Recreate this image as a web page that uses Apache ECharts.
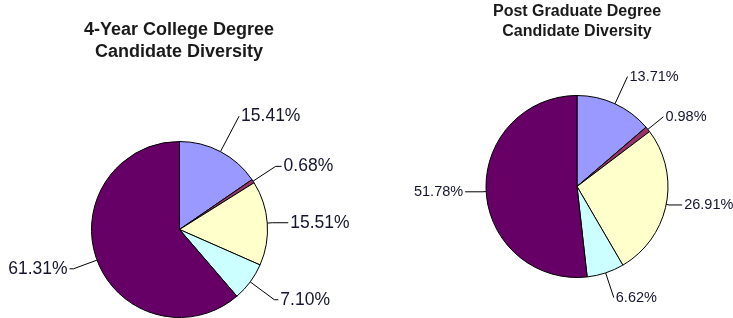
<!DOCTYPE html>
<html>
<head>
<meta charset="utf-8">
<script src="https://cdn.jsdelivr.net/npm/echarts@6/dist/echarts.min.js"></script>
<style>
html,body{margin:0;padding:0;background:#fff;}
#c{width:733px;height:318px;}
</style>
</head>
<body>
<div id="c"></div>
<script>
// ---- data ----
const categories = ['Group A', 'Group B', 'Group C', 'Group D', 'Group E'];
const collegeValues = [15.41, 0.68, 15.51, 7.10, 61.31];
const postGradValues = [13.71, 0.98, 26.91, 6.62, 51.78];
const collegeTitle = '4-Year College Degree\nCandidate Diversity';
const postGradTitle = 'Post Graduate Degree\nCandidate Diversity';

// ---- styling ----
const colors = ['#9999FF', '#993366', '#FFFFCC', '#CCFFFF', '#660066'];
const font = '"Liberation Sans", Arial, sans-serif';
const leftLeader = [[40, 0], [27, 6], [5, 16], [30, 4], [25, 4]];
const rightLeader = [[30, 0], [20, 0], [3, 13], [26, 0], [4, 17]];

function buildData(values, leaders) {
  return values.map((v, i) => ({
    name: categories[i],
    value: v,
    itemStyle: { color: colors[i] },
    labelLine: { length: leaders[i][0], length2: leaders[i][1] }
  }));
}

function pieSeries(values, leaders, center, radius, fontSize) {
  return {
    type: 'pie',
    center: center,
    radius: radius,
    startAngle: 90,
    clockwise: true,
    avoidLabelOverlap: false,
    minShowLabelAngle: 0,
    animation: false,
    silent: true,
    itemStyle: { borderColor: '#000', borderWidth: 1 },
    label: {
      show: true,
      position: 'outside',
      distanceToLabelLine: 2,
      fontFamily: font,
      fontSize: fontSize,
      color: '#15152e',
      formatter: p => p.value.toFixed(2) + '%'
    },
    labelLine: { show: true, smooth: false, lineStyle: { color: '#000', width: 1 } },
    emphasis: { disabled: true },
    data: buildData(values, leaders)
  };
}

const chart = echarts.init(document.getElementById('c'), null, { renderer: 'canvas' });
chart.setOption({
  backgroundColor: '#fff',
  animation: false,
  title: [
    {
      text: collegeTitle, left: 179, top: 19, textAlign: 'center', padding: 0,
      textStyle: { fontFamily: font, fontSize: 18, fontWeight: 'bold', color: '#1a1a1a', lineHeight: 22 }
    },
    {
      text: postGradTitle, left: 577, top: 2, textAlign: 'center', padding: 0,
      textStyle: { fontFamily: font, fontSize: 16, fontWeight: 'bold', color: '#1a1a1a', lineHeight: 20 }
    }
  ],
  series: [
    pieSeries(collegeValues, leftLeader, [179.5, 229.5], 88, 17.5),
    pieSeries(postGradValues, rightLeader, [577, 186.5], 91, 14.5)
  ]
});
</script>
</body>
</html>
